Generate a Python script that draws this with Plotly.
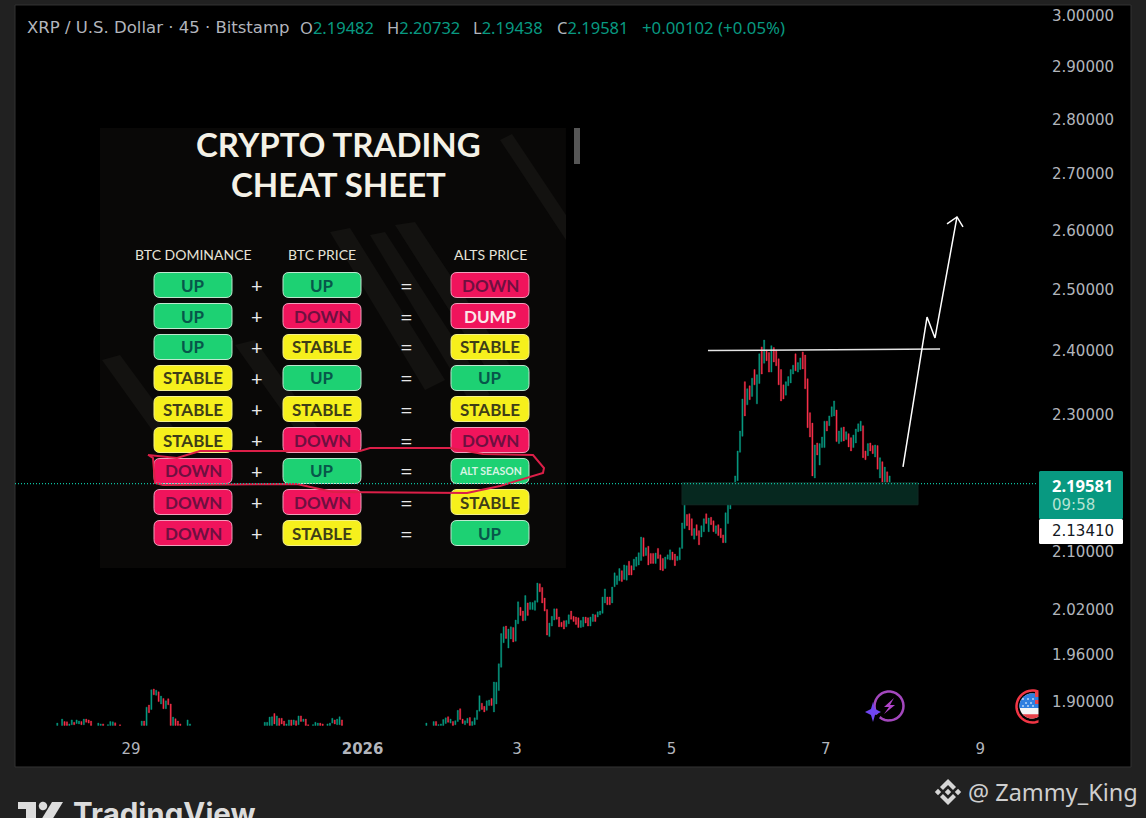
import numpy as np
import pandas as pd
import plotly.graph_objects as go

W, H = 1146, 818

# Price axis labels
y_ticks = [3.0, 2.9, 2.8, 2.7, 2.6, 2.5, 2.4, 2.3, 2.1, 2.02, 1.96, 1.9]
y_tick_labels = [f"{v:.5f}" for v in y_ticks]

# Date axis labels
x_ticks = ["2025-12-29", "2026-01-01", "2026-01-03", "2026-01-05", "2026-01-07", "2026-01-09"]
x_tick_labels = ["29", "<b>2026</b>", "3", "5", "7", "9"]

# Bars are 45 minutes apart, counted from this start
first_bar = "2025-12-28 01:05"

# Low stretches at the bottom of the pane, these have gaps so they carry a bar number
early_idx = [0, 2, 3, 4, 5, 6, 7, 8, 9, 10, 11, 12, 13, 14, 17, 18, 19, 21, 22, 23, 24, 26,
             35, 36, 37, 38, 39, 40, 41, 42, 43, 44, 45, 46, 47, 48, 49, 50, 51, 54, 55,
             86, 87, 88, 89, 90, 91, 92, 93, 94, 95, 96, 97, 98, 99, 100, 101, 102, 103, 104,
             106, 107, 108, 109, 110, 112, 113, 114, 115, 116, 117, 118, 153]
early_open = [1.869, 1.869, 1.874, 1.8736, 1.869, 1.870, 1.873, 1.8715, 1.871, 1.874, 1.870, 1.877, 1.876, 1.8745,
              1.869, 1.869, 1.871, 1.869, 1.869, 1.869, 1.8724, 1.870,
              1.869, 1.8745, 1.869, 1.8946, 1.889, 1.915, 1.907, 1.9114, 1.896, 1.903, 1.890, 1.9026, 1.896,
              1.869, 1.8775, 1.8745, 1.871, 1.869, 1.869,
              1.869, 1.869, 1.869, 1.869, 1.884, 1.869, 1.878, 1.878, 1.8745, 1.869, 1.869, 1.876, 1.870, 1.875,
              1.870, 1.881, 1.874, 1.877, 1.870,
              1.869, 1.869, 1.869, 1.872, 1.871, 1.869, 1.869, 1.872, 1.876, 1.870, 1.870, 1.876, 1.869]
early_close = [1.872, 1.877, 1.869, 1.869, 1.871, 1.876, 1.870, 1.876, 1.8745, 1.870, 1.877, 1.873, 1.872, 1.869,
               1.872, 1.871, 1.869, 1.870, 1.874, 1.8736, 1.869, 1.869,
               1.8745, 1.869, 1.892, 1.885, 1.914, 1.9076, 1.9135, 1.899, 1.906, 1.890, 1.900, 1.895, 1.869,
               1.8795, 1.869, 1.869, 1.869, 1.876, 1.871,
               1.873, 1.873, 1.8795, 1.880, 1.871, 1.881, 1.869, 1.871, 1.869, 1.871, 1.876, 1.869, 1.876, 1.869,
               1.881, 1.874, 1.877, 1.869, 1.869,
               1.870, 1.873, 1.872, 1.869, 1.869, 1.871, 1.872, 1.878, 1.871, 1.877, 1.880, 1.869, 1.872]

# Main run, consecutive bars from here to the last one
run_start = 156
run_open = [1.869, 1.874, 1.869, 1.869, 1.869, 1.8715, 1.880, 1.872, 1.874, 1.870,
            1.874, 1.890, 1.877, 1.870, 1.872, 1.879, 1.869, 1.870, 1.8765, 1.887,
            1.897, 1.893, 1.888, 1.894, 1.903, 1.886, 1.896, 1.913, 1.943, 1.975,
            1.997, 1.968, 1.980, 1.995, 1.977, 2.000, 2.022, 2.017, 2.0045, 2.028,
            2.019, 2.019, 2.018, 2.029, 2.054, 2.049, 2.0345, 2.019, 1.983, 1.997,
            2.005, 2.020, 2.009, 2.002, 2.004, 1.996, 2.000, 2.017, 2.010, 2.009,
            2.008, 1.995, 1.996, 2.009, 2.008, 1.997, 2.003, 2.012, 2.009, 2.012,
            2.014, 2.028, 2.036, 2.036, 2.028, 2.050, 2.053, 2.058, 2.072, 2.060,
            2.059, 2.085, 2.079, 2.073, 2.078, 2.080, 2.086, 2.118, 2.093, 2.106,
            2.096, 2.096, 2.082, 2.103, 2.094, 2.089, 2.075, 2.088, 2.087, 2.098,
            2.095, 2.086, 2.087, 2.103, 2.131, 2.151, 2.152, 2.145, 2.116, 2.1365,
            2.128, 2.119, 2.1265, 2.152, 2.1265, 2.147, 2.142, 2.124, 2.1365, 2.131,
            2.122, 2.111, 2.138,
            2.159, 2.173, 2.168, 2.200, 2.242, 2.266, 2.350, 2.314, 2.3435, 2.327,
            2.369, 2.3155, 2.347, 2.405, 2.379, 2.400, 2.396, 2.365, 2.404, 2.400,
            2.386, 2.369, 2.345, 2.329, 2.3435, 2.348, 2.362, 2.394, 2.365, 2.369,
            2.397, 2.392, 2.3545, 2.302, 2.286, 2.204, 2.256, 2.223, 2.249, 2.249,
            2.289, 2.282, 2.296, 2.297, 2.306, 2.255, 2.258, 2.280, 2.261, 2.270,
            2.264, 2.249, 2.256, 2.273, 2.274, 2.282, 2.244, 2.237, 2.256, 2.252,
            2.235, 2.252, 2.204, 2.228, 2.189, 2.213, 2.194]
run_close = [1.874, 1.869, 1.870, 1.871, 1.8765, 1.8786, 1.873, 1.877, 1.869, 1.875,
             1.888, 1.8765, 1.8715, 1.875, 1.878, 1.869, 1.874, 1.8786, 1.888, 1.9065,
             1.889, 1.886, 1.900, 1.901, 1.894, 1.924, 1.9236, 1.9475, 1.987, 1.996,
             1.9805, 1.993, 1.996, 1.976, 2.005, 2.0295, 2.011, 2.004, 2.038, 2.011,
             2.029, 2.0286, 2.031, 2.055, 2.043, 2.028, 2.017, 1.985, 2.001, 2.010,
             2.020, 2.006, 1.996, 1.996, 1.993, 2.0045, 2.012, 2.006, 2.003, 1.999,
             1.995, 2.0045, 2.009, 2.001, 1.997, 2.009, 2.013, 2.003, 2.016, 2.017,
             2.036, 2.047, 2.0255, 2.0255, 2.0495, 2.069, 2.065, 2.075, 2.057, 2.080,
             2.079, 2.066, 2.066, 2.088, 2.091, 2.097, 2.119, 2.092, 2.104, 2.080,
             2.082, 2.082, 2.0965, 2.089, 2.073, 2.072, 2.091, 2.094, 2.101, 2.087,
             2.079, 2.092, 2.104, 2.139, 2.165, 2.135, 2.129, 2.121, 2.131, 2.121,
             2.108, 2.135, 2.145, 2.138, 2.146, 2.1365, 2.1265, 2.135, 2.121, 2.118,
             2.111, 2.1535, 2.166,
             2.190, 2.195, 2.207, 2.244, 2.274, 2.323, 2.297, 2.339, 2.322, 2.3555,
             2.345, 2.361, 2.394, 2.362, 2.416, 2.383, 2.365, 2.407, 2.381, 2.375,
             2.345, 2.320, 2.323, 2.350, 2.358, 2.369, 2.376, 2.367, 2.380, 2.3875,
             2.370, 2.339, 2.279, 2.265, 2.207, 2.253, 2.238, 2.255, 2.265, 2.289,
             2.274, 2.297, 2.311, 2.320, 2.258, 2.274, 2.279, 2.259, 2.273, 2.250,
             2.244, 2.268, 2.277, 2.285, 2.289, 2.234, 2.231, 2.255, 2.244, 2.240,
             2.253, 2.217, 2.234, 2.181, 2.220, 2.192, 2.207]

last_price = 2.19581

# Chart drawings (date, price)
zone_dates = ["2026-01-05 03:18", "2026-01-08 04:40"]
zone_prices = [2.165, 2.197]
level_dates = ["2026-01-05 11:22", "2026-01-08 11:31"]
level_prices = [2.3992, 2.4017]
arrow_dates = ["2026-01-08 00:00", "2026-01-08 07:28", "2026-01-08 09:57", "2026-01-08 16:47"]
arrow_prices = [2.2203, 2.4533, 2.4194, 2.6224]
head_dates = ["2026-01-08 13:41", "2026-01-08 16:47", "2026-01-08 18:39"]
head_prices = [2.6102, 2.6224, 2.6051]

# Cheat sheet pasted over the chart
sheet_headers = ["BTC DOMINANCE", "BTC PRICE", "ALTS PRICE"]
dominance = ["UP", "UP", "UP", "STABLE", "STABLE", "STABLE", "DOWN", "DOWN", "DOWN"]
btc_price = ["UP", "DOWN", "STABLE", "UP", "STABLE", "DOWN", "UP", "DOWN", "STABLE"]
alts_price = ["DOWN", "DUMP", "STABLE", "UP", "STABLE", "DOWN", "ALT SEASON", "STABLE", "UP"]

# Title row, drawn as separate groups
ohlc_groups = ["O", "H", "L", "C"]
ohlc_values = ["2.19482", "2.20732", "2.19438", "2.19581"]
change_text = "+0.00102 (+0.05%)"

GREEN = "#089981"
RED = "#f7304a"
TEXT = "#b2b5bc"
PANE = "#000000"
OUTER = "#212121"

pill_fill = {"UP": "#1dd173", "DOWN": "#f0145c", "DUMP": "#f0145c", "STABLE": "#f6f01c", "ALT SEASON": "#1dd173"}
pill_text = {"UP": "#07574a", "DOWN": "#6e1040", "DUMP": "#fbe6ea", "STABLE": "#3e3e18", "ALT SEASON": "#d8f4e4"}
pill_line = {"UP": "#bfe8cf", "DOWN": "#f0a0bc", "DUMP": "#f0a0bc", "STABLE": "#f6f28a", "ALT SEASON": "#bfe8cf"}


def px(x):
    return x / W


def py(y):
    return 1 - y / H


def poly(points):
    """
    Closed path from pixel points, in paper coordinates
    """
    return "M" + " L".join(f"{px(x):.5f},{py(y):.5f}" for x, y in points) + " Z"


def round_rect(x0, y0, x1, y1, r):
    """
    Rounded rectangle path from pixel corners
    """
    p = lambda x, y: f"{px(x):.5f},{py(y):.5f}"
    return (f"M{p(x0 + r, y0)} L{p(x1 - r, y0)} Q{p(x1, y0)} {p(x1, y0 + r)} "
            f"L{p(x1, y1 - r)} Q{p(x1, y1)} {p(x1 - r, y1)} "
            f"L{p(x0 + r, y1)} Q{p(x0, y1)} {p(x0, y1 - r)} "
            f"L{p(x0, y0 + r)} Q{p(x0, y0)} {p(x0 + r, y0)} Z")


def arc(cx, cy, r, a0, a1, n=30):
    """
    Points along a circle, angles in degrees, y pointing down
    """
    t = np.radians(np.linspace(a0, a1, n))
    return [(cx + r * np.cos(v), cy + r * np.sin(v)) for v in t]


def diamond(x, y, r):
    return [(x, y - r), (x + r, y), (x, y + r), (x - r, y)]


shapes = []
annotations = []


def add_path(path, fill=None, line=None, width=0, layer="below"):
    shapes.append(dict(type="path", path=path, xref="paper", yref="paper", layer=layer,
                       fillcolor=fill if fill else "rgba(0,0,0,0)",
                       line=dict(color=line if line else "rgba(0,0,0,0)", width=width)))


def add_text(x, y, text, size, color, family="Noto Sans", anchor="center"):
    annotations.append(dict(x=px(x), y=py(y), xref="paper", yref="paper", text=text, showarrow=False,
                            xanchor=anchor, yanchor="middle", align="left",
                            font=dict(size=size, color=color, family=family)))


# Pane
add_path(poly([(15, 5), (1131, 5), (1131, 767), (15, 767)]), fill=PANE, line="#333333", width=1)

# Cheat sheet background with its faint diagonal streaks
add_path(poly([(100, 128), (566, 128), (566, 568), (100, 568)]), fill="#090807")
streaks = [
    [(500, 140), (512, 134), (566, 215), (566, 240)],
    [(395, 225), (415, 222), (520, 380), (500, 390)],
    [(370, 235), (385, 232), (490, 395), (470, 402)],
    [(330, 232), (350, 228), (445, 380), (425, 390)],
    [(235, 345), (255, 340), (330, 445), (310, 450)],
    [(102, 360), (120, 355), (190, 450), (170, 455)],
]
for s in streaks:
    add_path(poly(s), fill="#131210")
add_path(poly([(574, 128), (580, 128), (580, 164), (574, 164)]), fill="#565656")

add_text(338, 144, "<b>CRYPTO TRADING</b>", 33, "#f4f1e6", family="Lato")
add_text(338, 184, "<b>CHEAT SHEET</b>", 33, "#f4f1e6", family="Lato")

col_centers = [193, 322, 490]
row_centers = [285, 316, 347, 378, 409, 440, 471, 502, 533]
for cx, head in zip(col_centers, sheet_headers):
    add_text(cx, 255, head, 14, "#e6e3d8", family="Lato")
for cx, col in zip(col_centers, [dominance, btc_price, alts_price]):
    for cy, label in zip(row_centers, col):
        add_path(round_rect(cx - 39, cy - 12.5, cx + 39, cy + 12.5, 6),
                 fill=pill_fill[label], line=pill_line[label], width=1)
        if label == "ALT SEASON":
            add_text(cx, cy, f"<b>{label}</b>", 10.5, pill_text[label], family="Lato")
        else:
            add_text(cx, cy, f"<b>{label}</b>", 17, pill_text[label], family="Lato")
for cy in row_centers:
    add_text(257, cy, "+", 20, "#e8e8e8", family="Lato")
    add_text(406, cy, "=", 22, "#e8e8e8", family="Lato")

# Hand drawn loop round the ALT SEASON row
add_path("M" + " L".join(f"{px(x):.5f},{py(y):.5f}" for x, y in [
    (148, 455), (153, 458), (155, 483), (163, 485), (297, 484), (333, 492), (467, 493), (500, 486),
    (543, 473), (544, 468), (533, 455), (483, 454), (450, 448), (370, 448), (360, 451), (200, 451),
    (177, 458), (148, 455)]), line="#dc1f48", width=2)

# Badges near the bottom of the pane
add_path(poly(arc(889, 706, 14.5, -215, 130)).rstrip(" Z"), line="#a347bd", width=2.5)
add_path(poly([(873, 702), (875, 709), (881, 712), (875, 715), (873, 722), (871, 715), (865, 712), (871, 709)]),
         fill="#6f45f0")
add_path(poly([(894, 698), (884, 707), (889, 707), (884, 714), (895, 705), (890, 705)]), fill="#b044c8")

add_path(poly(arc(1032.5, 706.5, 16, 0, 360, 60)), fill="#000000", line="#f23645", width=2.5)
add_path(poly(arc(1032, 706, 12.5, 0, 360, 60)), fill="#f4f4f4")
add_path(poly(arc(1032, 706, 12.5, 42, 138)), fill="#e8424a")
add_path(poly(arc(1032, 706, 12.5, 175, 270) + [(1040, 693), (1040, 708), (1020, 708)]), fill="#2f7fe0")
for sx, sy in [(1023, 699), (1028, 699), (1033, 699), (1026, 703), (1031, 703), (1023, 706), (1028, 706), (1033, 706)]:
    add_path(poly(diamond(sx, sy, 1)), fill="#ffffff")
add_path(poly([(1035, 692), (1040, 692), (1040, 697), (1035, 697)]), fill="#e8424a")
add_path(poly([(1035, 700), (1040, 700), (1040, 704), (1035, 704)]), fill="#e8424a")
add_path(poly([(1038.5, 685), (1060, 685), (1060, 730), (1038.5, 730)]), fill=PANE)

# Price labels on the axis
add_path(round_rect(1039, 471, 1123, 519, 1.5), fill=GREEN, layer="above")
add_path(round_rect(1039, 519, 1123, 544, 1.5), fill="#ffffff", layer="above")
add_text(1050, 485, f"<b>{last_price:.5f}</b>", 16.5, "#ffffff", anchor="left")
add_text(1050, 505, "09:58", 15, "#b5e3d3", family="DejaVu Sans", anchor="left")
add_text(1050, 531, "2.13410", 15, "#131722", family="DejaVu Sans", anchor="left")

# Title row
add_text(25, 27, "XRP / U.S. Dollar · 45 · Bitstamp", 16.5, TEXT, family="DejaVu Sans", anchor="left")
for gx, name, value in zip([298, 385, 471, 555], ohlc_groups, ohlc_values):
    add_text(gx, 27, f'{name}<span style="color:{GREEN}">{value}</span>', 16.5, TEXT, anchor="left")
add_text(640, 27, change_text, 16.8, GREEN, anchor="left")

# TradingView logo, cut by the bottom of the page
add_path(poly([(18, 802), (36, 802), (36, 820), (26, 820), (26, 809), (18, 809)]), fill="#dcdcdc")
add_path(poly(arc(43, 806, 4.2, 0, 360)), fill="#dcdcdc")
add_path(poly([(52, 802), (63, 802), (52, 820), (41, 820)]), fill="#dcdcdc")
add_text(71, 813, "<b>TradingView</b>", 29.5, "#dcdcdc", family="Inter", anchor="left")

# Watermark
for dx in (-10, 0, 10):
    add_path(poly(diamond(948 + dx, 792, 3.2)), fill="#d6d6d6")
add_path(poly([(948, 779), (956, 787), (953, 790), (948, 785), (943, 790), (940, 787)]), fill="#d6d6d6")
add_path(poly([(948, 805), (956, 797), (953, 794), (948, 799), (943, 794), (940, 797)]), fill="#d6d6d6")
add_text(966, 792, "@ Zammy_King", 23.5, "#cfcfcf", family="Noto Sans", anchor="left")

# Put the bars together
bar_times = pd.date_range(first_bar, periods=400, freq="45min")
all_idx = early_idx + list(range(run_start, run_start + len(run_open)))
all_open = early_open + run_open
all_close = early_close + run_close
all_high = [max(a, b) for a, b in zip(all_open, all_close)]
all_low = [min(a, b) for a, b in zip(all_open, all_close)]

x_start, x_end = "2025-12-27 11:56", "2026-01-09 17:58"

fig = go.Figure()

# Support zone
fig.add_trace(go.Scatter(
    x=[zone_dates[0], zone_dates[1], zone_dates[1], zone_dates[0], zone_dates[0]],
    y=[zone_prices[0], zone_prices[0], zone_prices[1], zone_prices[1], zone_prices[0]],
    mode="lines", fill="toself", fillcolor="#06281f", line=dict(color="#112a24", width=1),
    hoverinfo="skip"))

fig.add_trace(go.Candlestick(
    x=bar_times[all_idx], open=all_open, high=all_high, low=all_low, close=all_close,
    whiskerwidth=0,
    increasing=dict(line=dict(color=GREEN, width=0.4), fillcolor=GREEN),
    decreasing=dict(line=dict(color=RED, width=0.4), fillcolor=RED),
    hoverinfo="skip"))

# Last price line
fig.add_trace(go.Scatter(x=[x_start, x_end], y=[last_price, last_price], mode="lines",
                         line=dict(color="#0cc0a0", width=1.2, dash="1px,2px"), hoverinfo="skip"))

# Drawn level and arrow
fig.add_trace(go.Scatter(x=level_dates, y=level_prices, mode="lines",
                         line=dict(color="#e4e4e4", width=1.5), hoverinfo="skip"))
fig.add_trace(go.Scatter(x=arrow_dates, y=arrow_prices, mode="lines",
                         line=dict(color="#ffffff", width=1.5), hoverinfo="skip"))
fig.add_trace(go.Scatter(x=head_dates, y=head_prices, mode="lines",
                         line=dict(color="#ffffff", width=1.5), hoverinfo="skip"))

fig.update_layout(
    width=W, height=H,
    margin=dict(l=0, r=0, t=0, b=0),
    paper_bgcolor=OUTER,
    plot_bgcolor="rgba(0,0,0,0)",
    showlegend=False,
    shapes=shapes,
    annotations=annotations,
    xaxis=dict(
        domain=[px(15), px(1038)], range=[x_start, x_end], type="date",
        tickmode="array", tickvals=x_ticks, ticktext=x_tick_labels,
        tickfont=dict(size=15, color=TEXT, family="DejaVu Sans"),
        showgrid=False, zeroline=False, showline=False, ticks="", ticklabelstandoff=2,
        rangeslider=dict(visible=False),
    ),
    yaxis=dict(
        domain=[py(736), py(5)], type="log", range=[np.log10(1.856), np.log10(3.02)],
        side="right", tickmode="array", tickvals=y_ticks, ticktext=y_tick_labels,
        tickfont=dict(size=15, color=TEXT, family="DejaVu Sans"),
        showgrid=False, zeroline=False, showline=False, ticks="", ticklabelstandoff=13,
        ticklabelshift=1,
    ),
)

fig.write_html("out.html", config=dict(displayModeBar=False),
               post_script=f"document.body.style.margin='0';document.body.style.background='{OUTER}';")
